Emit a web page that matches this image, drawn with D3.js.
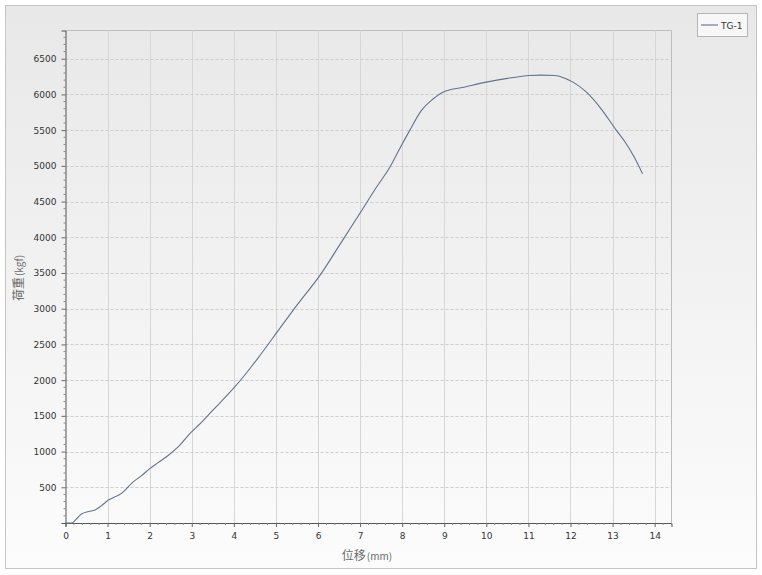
<!DOCTYPE html>
<html><head><meta charset="utf-8">
<script src="https://cdn.jsdelivr.net/npm/d3@7"></script>
<style>body{margin:0;background:#fff}svg{display:block}</style>
</head><body>
<svg id="c" width="762" height="575"></svg>
<script>
const seriesName = "TG-1";
const xVals = [0,0.15,0.25,0.38,0.55,0.70,0.85,1.02,1.15,1.33,1.45,1.57,1.8,2.01,2.2,2.4,2.7,2.96,3.2,3.43,3.7,3.99,4.3,4.62,5.05,5.5,6.05,6.5,6.99,7.4,7.71,7.94,8.18,8.45,8.74,8.97,9.5,10.0,10.5,11.03,11.3,11.63,11.85,12.06,12.38,12.7,13.09,13.3,13.49,13.71];
const yVals = [0,0,50,126,160,182,240,322,360,415,480,555,660,765,845,927,1080,1255,1390,1534,1700,1884,2100,2345,2690,3050,3470,3880,4331,4710,4984,5240,5497,5770,5940,6032,6105,6172,6225,6266,6270,6266,6230,6172,6032,5820,5497,5330,5147,4891];
const xTicks = [0,1,2,3,4,5,6,7,8,9,10,11,12,13,14];
const yTicks = [500,1000,1500,2000,2500,3000,3500,4000,4500,5000,5500,6000,6500];
const xLabel = "位移";
const xUnit = "(mm)";
const yLabel = "荷重";
const yUnit = "(kgf)";

const svg = d3.select("#c");
const defs = svg.append("defs");
const g1 = defs.append("linearGradient").attr("id","bg").attr("x1",0).attr("y1",0).attr("x2",0).attr("y2",1);
g1.append("stop").attr("offset","0%").attr("stop-color","#e8e8e8");
g1.append("stop").attr("offset","100%").attr("stop-color","#fcfcfc");

// outer panel
svg.append("rect").attr("x",5.5).attr("y",5.5).attr("width",751).attr("height",563)
  .attr("fill","url(#bg)").attr("stroke","#c4c4c4");

const L=65.5, R=671.5, T=30.5, B=523;
const x = d3.scaleLinear().domain([0,14.4]).range([L,R]);
const y = d3.scaleLinear().domain([0,6895]).range([B,T]);

// plot border
svg.append("path").attr("d",`M${L},${T}H${R}V${B}`).attr("fill","none").attr("stroke","#bdbdbd");

// grid
const vgrid = svg.append("g").attr("stroke","#d6d6d6").attr("stroke-width",1);
xTicks.slice(1).forEach(t=>vgrid.append("line").attr("x1",Math.round(x(t))+0.5).attr("x2",Math.round(x(t))+0.5).attr("y1",T).attr("y2",B));
const hgrid = svg.append("g").attr("stroke","#cdcdcd").attr("stroke-dasharray","3,2").attr("stroke-width",1);
yTicks.forEach(t=>hgrid.append("line").attr("x1",L).attr("x2",R).attr("y1",Math.round(y(t))+0.5).attr("y2",Math.round(y(t))+0.5));

// minor ticks
const minorX = d3.range(0,14.41,0.2).filter(v=>Math.abs(v-Math.round(v))>1e-6);
const minorY = d3.range(100,6890,100).filter(v=>v%500!==0);

const xAxis = svg.append("g").attr("transform",`translate(0,${B})`)
  .call(d3.axisBottom(x).tickValues(xTicks).tickSize(4).tickPadding(6).tickFormat(d3.format("d")));
const yAxis = svg.append("g").attr("transform",`translate(${L},0)`)
  .call(d3.axisLeft(y).tickValues(yTicks).tickSize(4).tickPadding(5).tickFormat(d3.format("d")));
[xAxis,yAxis].forEach(a=>{
  a.select(".domain").attr("stroke","#555");
  a.selectAll(".tick line").attr("stroke","#666");
  a.selectAll("text").attr("fill","#333").style("font-family","'DejaVu Sans', sans-serif").style("font-size","9px");
});
xAxis.selectAll(".minor").data(minorX).enter().append("line").attr("stroke","#888")
  .attr("x1",d=>x(d)).attr("x2",d=>x(d)).attr("y1",0).attr("y2",2);
yAxis.selectAll(".minor").data(minorY).enter().append("line").attr("stroke","#888")
  .attr("y1",d=>y(d)).attr("y2",d=>y(d)).attr("x1",0).attr("x2",-2);

// line
const data = xVals.map((v,i)=>[v,yVals[i]]);
svg.append("path").datum(data).attr("fill","none").attr("stroke","#62728f").attr("stroke-width",1.1)
  .attr("d",d3.line().x(d=>x(d[0])).y(d=>y(d[1])).curve(d3.curveMonotoneX));

// axis labels
const xl = svg.append("text").attr("x",367).attr("y",560).attr("text-anchor","middle")
  .attr("fill","#6a6a6a").style("font-family","'Noto Sans CJK SC', sans-serif").style("font-size","12px");
xl.append("tspan").text(xLabel);
xl.append("tspan").style("font-size","10px").attr("dx",1).text(xUnit);
const yl = svg.append("text").attr("transform","translate(23,278) rotate(-90)").attr("text-anchor","middle")
  .attr("fill","#6a6a6a").style("font-family","'Noto Sans CJK SC', sans-serif").style("font-size","12px");
yl.append("tspan").text(yLabel);
yl.append("tspan").style("font-size","10px").attr("dx",1).text(yUnit);

// legend
const lg = svg.append("g");
lg.append("rect").attr("x",697.5).attr("y",13.5).attr("width",50).attr("height",23).attr("fill","#f7f7f7").attr("stroke","#b5b5b5");
lg.append("line").attr("x1",701).attr("x2",718).attr("y1",25).attr("y2",25).attr("stroke","#62728f").attr("stroke-width",1.1);
lg.append("text").attr("x",721).attr("y",28.5).text(seriesName).attr("fill","#333")
  .style("font-family","'DejaVu Sans', sans-serif").style("font-size","9px");
</script>
</body></html>
